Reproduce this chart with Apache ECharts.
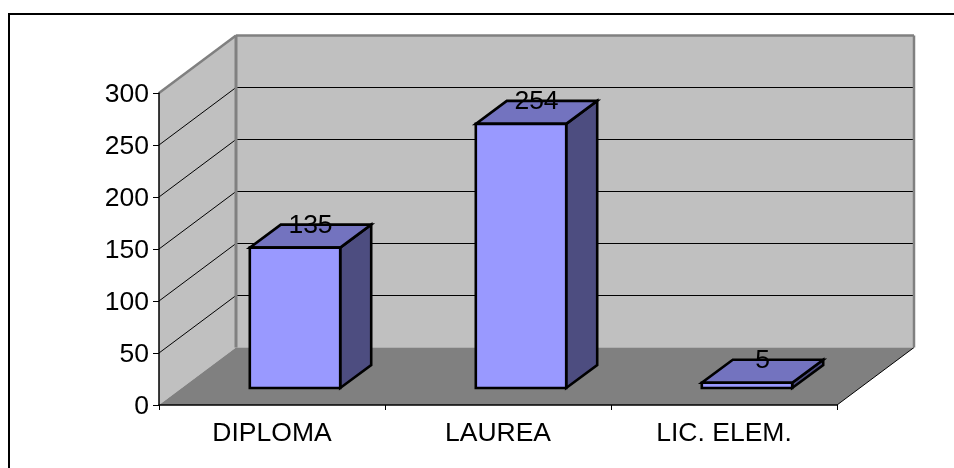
<!DOCTYPE html>
<html>
<head>
<meta charset="utf-8">
<style>html,body{margin:0;padding:0;background:#fff}#chart{width:954px;height:468px}</style>
<script src="https://cdn.jsdelivr.net/npm/echarts@6/dist/echarts.min.js"></script>
</head>
<body>
<div id="chart"></div>
<script>
// Qualification counts shown as a 3D-style column chart
const categories = ['DIPLOMA', 'LAUREA', 'LIC. ELEM.'];
const values = [135, 254, 5];
const yTicks = [0, 50, 100, 150, 200, 250, 300];

// Oblique projection offsets, in pixels, for the room and for each column
const ROOM_DX = 77, ROOM_DY = -57.5;
const BAR_FRONT_DX = 23, BAR_FRONT_DY = -17;
const BAR_DX = 31, BAR_DY = -23;
const BAR_BAND_SHARE = 0.4;

const FONT = '"Liberation Sans", Arial, sans-serif';
const FONT_SIZE = 26.5;
const shift = (p, dx, dy) => [p[0] + dx, p[1] + dy];
const poly = (points, fill, extra) => ({
  type: 'polygon',
  shape: { points },
  style: Object.assign({ fill, stroke: 'none' }, extra || {})
});
const line = (a, b, stroke, lineWidth) => ({
  type: 'line',
  shape: { x1: a[0], y1: a[1], x2: b[0], y2: b[1] },
  style: { stroke, lineWidth, fill: 'none' }
});

// Side wall, back wall, floor and gridlines of the box
function renderRoom(params, api) {
  const band = api.size([1, 0])[0];
  const x0 = api.coord([0, 0])[0] - band / 2;
  const x1 = api.coord([categories.length - 1, 0])[0] + band / 2;
  const y0 = api.coord([0, 0])[1];
  const yMax = api.coord([0, yTicks[yTicks.length - 1]])[1];
  const fb = [x0, y0], ft = [x0, yMax], rb = [x1, y0];
  const bb = shift(fb, ROOM_DX, ROOM_DY), bt = shift(ft, ROOM_DX, ROOM_DY);
  const br = shift(rb, ROOM_DX, ROOM_DY), brt = [br[0], bt[1]];
  const children = [
    poly([bt, brt, br, bb], '#c0c0c0'),
    poly([fb, ft, bt, bb], '#c0c0c0'),
    poly([fb, rb, br, bb], '#808080'),
    line(rb, br, '#000000', 1)
  ];
  yTicks.slice(1, -1).forEach(t => {
    const y = api.coord([0, t])[1];
    const front = [x0, y], back = shift(front, ROOM_DX, ROOM_DY);
    children.push(line(front, back, '#000000', 1));
    children.push(line(back, [br[0], back[1]], '#000000', 1));
  });
  children.push(line(ft, bt, '#808080', 2.5));
  children.push(line(bt, bb, '#808080', 3));
  children.push(line(bt, brt, '#808080', 2.5));
  children.push(line(brt, br, '#808080', 2.5));
  return { type: 'group', children };
}

// One column: front, top and side faces, then the value over its top face
function renderColumn(params, api) {
  const base = api.coord([api.value(0), 0]);
  const topPt = api.coord([api.value(0), api.value(1)]);
  const w = api.size([1, 0])[0] * BAR_BAND_SHARE;
  const stroke = { stroke: '#000000', lineWidth: 2.6, lineJoin: 'miter' };
  const fbl = shift([base[0] - w / 2, base[1]], BAR_FRONT_DX, BAR_FRONT_DY);
  const fbr = [fbl[0] + w, fbl[1]];
  const ftl = shift([base[0] - w / 2, topPt[1]], BAR_FRONT_DX, BAR_FRONT_DY);
  const ftr = [ftl[0] + w, ftl[1]];
  const btl = shift(ftl, BAR_DX, BAR_DY), btr = shift(ftr, BAR_DX, BAR_DY);
  const bbr = shift(fbr, BAR_DX, BAR_DY);
  return {
    type: 'group',
    children: [
      poly([fbr, ftr, btr, bbr], '#4d4d80', stroke),
      poly([ftl, ftr, btr, btl], '#7373bf', stroke),
      poly([fbl, fbr, ftr, ftl], '#9999ff', stroke),
      {
        type: 'text',
        z2: 10,
        style: {
          x: (ftl[0] + btr[0]) / 2,
          y: btl[1] + 1,
          text: String(api.value(1)),
          font: FONT_SIZE + 'px ' + FONT,
          fill: '#000000',
          align: 'center',
          verticalAlign: 'middle'
        }
      }
    ]
  };
}

const chart = echarts.init(document.getElementById('chart'), null, { renderer: 'canvas' });
chart.setOption({
  animation: false,
  backgroundColor: '#ffffff',
  grid: { left: 159, right: 117, top: 93, bottom: 63 },
  xAxis: {
    type: 'category',
    data: categories,
    z: 5,
    axisLine: { lineStyle: { color: '#000000', width: 1.5 } },
    axisTick: { show: true, length: 5, lineStyle: { color: '#000000', width: 1 } },
    axisLabel: { color: '#000000', fontFamily: FONT, fontSize: FONT_SIZE, margin: 15, interval: 0 },
    splitLine: { show: false }
  },
  yAxis: {
    type: 'value',
    min: 0,
    max: 300,
    interval: 50,
    z: 5,
    axisLine: { show: true, lineStyle: { color: '#000000', width: 1.5 } },
    axisTick: { show: true, length: 6, lineStyle: { color: '#000000', width: 1 } },
    axisLabel: {
      margin: 10,
      formatter: '{tick|{value}}',
      rich: {
        tick: { color: '#000000', fontFamily: FONT, fontSize: FONT_SIZE, padding: [4, 0, 0, 0] }
      }
    },
    splitLine: { show: false }
  },
  series: [
    {
      type: 'custom',
      name: 'room',
      coordinateSystem: 'cartesian2d',
      silent: true,
      clip: false,
      z: 1,
      data: [[0, 0]],
      renderItem: renderRoom
    },
    {
      type: 'custom',
      name: 'count',
      coordinateSystem: 'cartesian2d',
      silent: true,
      clip: false,
      z: 2,
      encode: { x: 0, y: 1 },
      data: values.map((v, i) => [i, v]),
      renderItem: renderColumn
    }
  ],
  graphic: [{
    type: 'polyline',
    silent: true,
    shape: { points: [[9, 468], [9, 14], [954, 14]] },
    style: { stroke: '#000000', lineWidth: 2, fill: 'none' }
  }]
});
</script>
</body>
</html>
